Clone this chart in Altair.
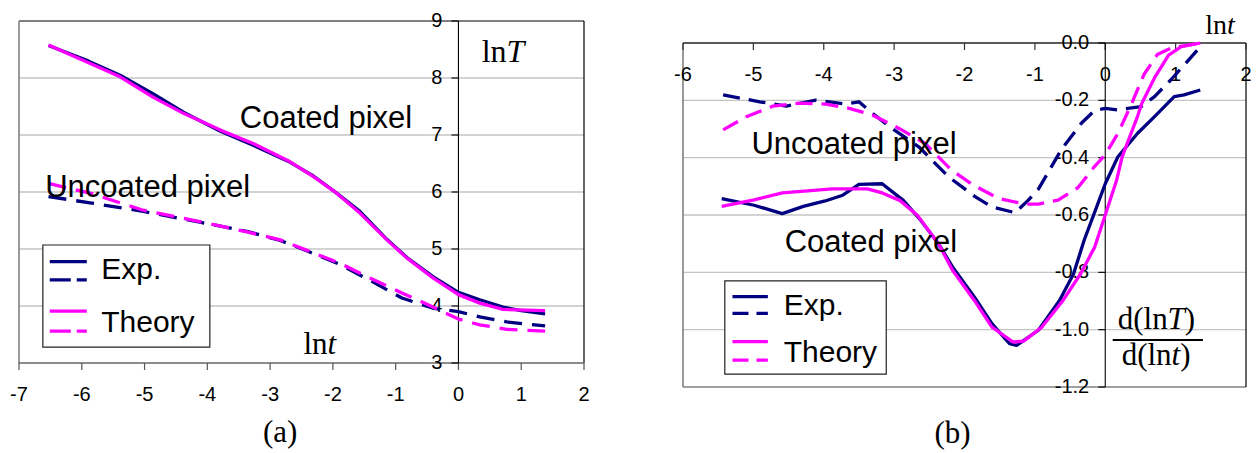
import altair as alt
import pandas as pd

NAVY = "#000080"
MAGENTA = "#FF00FF"
SANS = "Liberation Sans"
SERIF = "Liberation Serif"

# ---------------- panel (a): lnT vs lnt ----------------
a_x_coat_exp = [-6.53, -5.90, -5.39, -4.86, -4.38, -3.80, -3.27, -2.68, -2.31, -1.94,
                -1.57, -1.14, -0.82, -0.40, 0.00, 0.34, 0.71, 1.00, 1.38]
a_y_coat_exp = [8.57, 8.30, 8.05, 7.72, 7.40, 7.07, 6.82, 6.52, 6.28, 5.98,
                5.66, 5.17, 4.85, 4.51, 4.24, 4.11, 3.98, 3.92, 3.86]
a_x_coat_thy = [-6.53, -5.39, -4.86, -4.38, -3.80, -3.27, -2.68, -2.31, -1.94, -1.57,
                -1.14, -0.82, -0.40, 0.00, 0.34, 0.71, 1.38]
a_y_coat_thy = [8.58, 8.02, 7.66, 7.38, 7.09, 6.85, 6.53, 6.27, 5.98, 5.63,
                5.16, 4.84, 4.49, 4.20, 4.05, 3.94, 3.92]
a_x_unc = [-6.53, -5.87, -5.02, -4.12, -3.37, -2.84, -2.42, -1.89, -1.41, -0.90,
           -0.40, 0.00, 0.34, 0.77, 1.38]
a_y_unc_exp = [5.92, 5.81, 5.66, 5.47, 5.31, 5.15, 4.97, 4.73, 4.45, 4.14,
               3.96, 3.90, 3.81, 3.72, 3.65]
a_y_unc_thy = [6.15, 5.98, 5.68, 5.48, 5.30, 5.16, 4.98, 4.75, 4.49, 4.23,
               3.98, 3.77, 3.67, 3.59, 3.56]

# ---------------- panel (b): d(lnT)/d(lnt) vs lnt ----------------
b_x_coat_exp = [-5.45, -4.99, -4.59, -4.29, -3.98, -3.73, -3.50, -3.17, -2.87, -2.62,
                -2.37, -2.17, -1.86, -1.61, -1.36, -1.26, -0.95, -0.65, -0.45, -0.30,
                -0.15, 0.00, 0.18, 0.46, 0.70, 0.98, 1.12, 1.35]
b_y_coat_exp = [-0.543, -0.566, -0.595, -0.570, -0.551, -0.531, -0.493, -0.491, -0.549, -0.619,
                -0.700, -0.781, -0.886, -0.979, -1.049, -1.055, -1.002, -0.898, -0.805, -0.688,
                -0.590, -0.491, -0.397, -0.315, -0.257, -0.187, -0.181, -0.164]
b_x_coat_thy = [-5.45, -4.99, -4.59, -4.23, -3.88, -3.38, -3.17, -2.92, -2.67, -2.37,
                -2.17, -1.86, -1.61, -1.31, -1.16, -0.90, -0.60, -0.35, -0.15, 0.00,
                0.16, 0.24, 0.46, 0.52, 0.71, 0.90, 1.08, 1.35]
b_y_coat_thy = [-0.570, -0.547, -0.523, -0.516, -0.509, -0.509, -0.523, -0.549, -0.601, -0.700,
                -0.793, -0.898, -0.991, -1.043, -1.040, -0.991, -0.898, -0.805, -0.712, -0.600,
                -0.480, -0.397, -0.255, -0.210, -0.117, -0.042, -0.013, 0.000]
b_x_unc_exp = [-5.43, -4.91, -4.53, -4.11, -3.69, -3.50, -3.31, -3.03, -2.65, -2.23,
               -1.85, -1.61, -1.28, -1.10, -0.95, -0.62, -0.34, -0.15, 0.00, 0.17,
               0.51, 0.70, 0.93, 1.12, 1.35]
b_y_unc_exp = [-0.181, -0.205, -0.220, -0.199, -0.213, -0.205, -0.245, -0.298, -0.362, -0.466,
               -0.536, -0.572, -0.592, -0.550, -0.510, -0.370, -0.280, -0.235, -0.228, -0.233,
               -0.222, -0.187, -0.129, -0.077, -0.013]
b_x_unc_thy = [-5.43, -5.10, -4.72, -4.35, -3.97, -3.64, -3.31, -2.93, -2.56, -2.20,
               -1.88, -1.52, -1.14, -0.95, -0.67, -0.39, -0.15, 0.00, 0.18, 0.36,
               0.55, 0.74, 0.93, 1.35]
b_y_unc_thy = [-0.303, -0.257, -0.220, -0.210, -0.213, -0.228, -0.251, -0.298, -0.350, -0.440,
               -0.495, -0.542, -0.562, -0.562, -0.548, -0.505, -0.430, -0.390, -0.315, -0.220,
               -0.110, -0.040, -0.018, 0.000]

# ticks / grid / labels
a_xticks = [-7, -6, -5, -4, -3, -2, -1, 0, 1, 2]
a_yticks = [3, 4, 5, 6, 7, 8, 9]
a_grid = [4, 5, 6, 7, 8]
b_xticks = [-6, -5, -4, -3, -2, -1, 0, 1, 2]
b_yticks = [-1.2, -1.0, -0.8, -0.6, -0.4, -0.2, 0.0]
b_grid = [-1.0, -0.8, -0.6, -0.4, -0.2]
a_xlabels = [str(v) for v in a_xticks]
a_ylabels = [str(v) for v in a_yticks]
b_xlabels = [str(v) for v in b_xticks]
b_ylabels = ["%.1f" % v for v in b_yticks]
series_labels = ["Exp.", "Theory"]
curve_labels = ["Coated pixel", "Uncoated pixel"]

W, H = 1244, 445

XA = alt.Scale(domain=[-7, 2], range=[11, 576], nice=False, zero=False)
YA = alt.Scale(domain=[3, 9], range=[355, 13], nice=False, zero=False)
XB = alt.Scale(domain=[-6, 2], range=[675, 1238], nice=False, zero=False)
YB = alt.Scale(domain=[-1.2, 0], range=[379, 35], nice=False, zero=False)
TICK = 7  # tick length in pixels
TICKFONT = 20
LW = 3.3


def px_to_units(scale, px):
    d0, d1 = scale.domain
    r0, r1 = scale.range
    return px * abs(d1 - d0) / abs(r1 - r0)


def hrules(ys, x1, x2, sx, sy, color, width, dash=None):
    df = pd.DataFrame({"x": [x1] * len(ys), "x2": [x2] * len(ys), "y": ys})
    kw = dict(color=color, strokeWidth=width)
    if dash:
        kw["strokeDash"] = dash
    return alt.Chart(df).mark_rule(**kw).encode(
        x=alt.X("x:Q", scale=sx, axis=None), x2="x2:Q",
        y=alt.Y("y:Q", scale=sy, axis=None))


def vrules(xs, y1, y2, sx, sy, color, width):
    df = pd.DataFrame({"x": xs, "y": [y1] * len(xs), "y2": [y2] * len(xs)})
    return alt.Chart(df).mark_rule(color=color, strokeWidth=width).encode(
        x=alt.X("x:Q", scale=sx, axis=None),
        y=alt.Y("y:Q", scale=sy, axis=None), y2="y2:Q")


def box(x1, x2, y1, y2, sx, sy):
    df = pd.DataFrame({"x": [x1], "x2": [x2], "y": [y1], "y2": [y2]})
    return alt.Chart(df).mark_rect(fill="white", stroke="#222", strokeWidth=1.2).encode(
        x=alt.X("x:Q", scale=sx, axis=None), x2="x2:Q",
        y=alt.Y("y:Q", scale=sy, axis=None), y2="y2:Q")


def curve(xs, ys, color, sx, sy, dash=None):
    df = pd.DataFrame({"x": xs, "y": ys})
    kw = dict(color=color, strokeWidth=LW, strokeJoin="round")
    if dash:
        kw["strokeDash"] = dash
    return alt.Chart(df).mark_line(**kw).encode(
        x=alt.X("x:Q", scale=sx, axis=None),
        y=alt.Y("y:Q", scale=sy, axis=None))


def texts(xs, ys, labels, sx, sy, font, size, align="left", dx=0, dy=0,
          italic=False, baseline="alphabetic"):
    df = pd.DataFrame({"x": xs, "y": ys, "t": labels})
    kw = dict(font=font, fontSize=size, align=align, baseline=baseline, color="black")
    if dx:
        kw["dx"] = dx
    if dy:
        kw["dy"] = dy
    if italic:
        kw["fontStyle"] = "italic"
    return alt.Chart(df).mark_text(**kw).encode(
        x=alt.X("x:Q", scale=sx, axis=None),
        y=alt.Y("y:Q", scale=sy, axis=None), text="t:N")


def label(x, y, text, sx, sy, font, size, **kw):
    return texts([x], [y], [text], sx, sy, font, size, **kw)


# ---------------- build panel (a) ----------------
a_tx = px_to_units(XA, TICK)
a_ty = px_to_units(YA, TICK)
panel_a = alt.layer(
    hrules(a_grid, -7, 2, XA, YA, "#c4c4c4", 1.4),
    hrules([9], -7, 2, XA, YA, "black", 1.2),
    vrules([2], 3, 9, XA, YA, "black", 1.2),
    vrules([-7], 3, 9, XA, YA, "#808080", 1.6),
    # x axis (bottom, at lnT = 3)
    hrules([3], -7, 2, XA, YA, "#666", 1.5),
    vrules(a_xticks, 3, 3 - a_ty, XA, YA, "#555", 1.2),
    texts(a_xticks, [3] * len(a_xticks), a_xlabels, XA, YA, SANS, TICKFONT,
          align="center", dy=32, baseline="middle"),
    # y axis (at lnt = 0)
    vrules([0], 3, 9, XA, YA, "black", 1.1),
    hrules(a_yticks, -a_tx, 0, XA, YA, "black", 1.1),
    texts([0] * len(a_yticks), a_yticks, a_ylabels, XA, YA, SANS, TICKFONT,
          align="right", dx=-16, baseline="middle"),
    # legend
    box(-6.62, -3.96, 3.28, 5.07, XA, YA),
    hrules([4.78], -6.51, -5.92, XA, YA, NAVY, LW),
    hrules([4.46], -6.51, -5.92, XA, YA, NAVY, LW, dash=[21, 6]),
    hrules([3.91], -6.51, -5.92, XA, YA, MAGENTA, LW),
    hrules([3.56], -6.51, -5.92, XA, YA, MAGENTA, LW, dash=[21, 6]),
    label(-5.69, 4.63, series_labels[0], XA, YA, SANS, 30, baseline="middle"),
    label(-5.69, 3.71, series_labels[1], XA, YA, SANS, 30, baseline="middle"),
    # curves
    curve(a_x_unc, a_y_unc_exp, NAVY, XA, YA, dash=[18, 10]),
    curve(a_x_coat_exp, a_y_coat_exp, NAVY, XA, YA),
    curve(a_x_unc, a_y_unc_thy, MAGENTA, XA, YA, dash=[18, 10]),
    curve(a_x_coat_thy, a_y_coat_thy, MAGENTA, XA, YA),
    # annotations
    label(-2.11, 7.12, curve_labels[0], XA, YA, SANS, 31, align="center"),
    label(-4.95, 5.92, curve_labels[1], XA, YA, SANS, 31, align="center"),
    label(0.37, 8.275, "ln", XA, YA, SERIF, 32),
    label(0.37, 8.275, "T", XA, YA, SERIF, 32, dx=24.9, italic=True),
    label(-2.47, 3.16, "ln", XA, YA, SERIF, 31),
    label(-2.47, 3.16, "t", XA, YA, SERIF, 31, dx=24.1, italic=True),
    label(-2.84, 1.62, "(a)", XA, YA, SERIF, 31, align="center"),
)

# ---------------- build panel (b) ----------------
b_tx = px_to_units(XB, TICK)
b_ty = px_to_units(YB, TICK)
panel_b = alt.layer(
    hrules(b_grid, -6, 2, XB, YB, "#c4c4c4", 1.4),
    hrules([-1.2], -6, 2, XB, YB, "#808080", 1.4),
    vrules([2], -1.2, 0, XB, YB, "black", 1.2),
    vrules([-6], -1.2, 0, XB, YB, "#808080", 1.6),
    # x axis (top, at 0)
    hrules([0], -6, 2, XB, YB, "#222", 1.3),
    vrules(b_xticks, 0, -b_ty, XB, YB, "#333", 1.2),
    texts(b_xticks, [0] * len(b_xticks), b_xlabels, XB, YB, SANS, TICKFONT,
          align="center", dy=32, baseline="middle"),
    # y axis (at lnt = 0)
    vrules([0], -1.2, 0, XB, YB, "black", 1.1),
    hrules(b_yticks, -b_tx, 0, XB, YB, "black", 1.1),
    texts([0] * len(b_yticks), b_yticks, b_ylabels, XB, YB, SANS, TICKFONT,
          align="right", dx=-16, baseline="middle"),
    # legend
    box(-5.406, -3.112, -0.830, -1.155, XB, YB),
    hrules([-0.885], -5.297, -4.794, XB, YB, NAVY, LW),
    hrules([-0.943], -5.297, -4.794, XB, YB, NAVY, LW, dash=[16, 8]),
    hrules([-1.042], -5.297, -4.794, XB, YB, MAGENTA, LW),
    hrules([-1.106], -5.297, -4.794, XB, YB, MAGENTA, LW, dash=[16, 8]),
    label(-4.569, -0.917, series_labels[0], XB, YB, SANS, 30, baseline="middle"),
    label(-4.569, -1.081, series_labels[1], XB, YB, SANS, 30, baseline="middle"),
    # curves
    curve(b_x_unc_exp, b_y_unc_exp, NAVY, XB, YB, dash=[17, 9]),
    curve(b_x_coat_exp, b_y_coat_exp, NAVY, XB, YB),
    curve(b_x_unc_thy, b_y_unc_thy, MAGENTA, XB, YB, dash=[17, 9]),
    curve(b_x_coat_thy, b_y_coat_thy, MAGENTA, XB, YB),
    # annotations
    label(-3.57, -0.386, curve_labels[1], XB, YB, SANS, 31, align="center"),
    label(-3.33, -0.728, curve_labels[0], XB, YB, SANS, 31, align="center"),
    label(1.42, 0.031, "ln", XB, YB, SERIF, 28),
    label(1.42, 0.031, "t", XB, YB, SERIF, 28, dx=21.8, italic=True),
    label(-2.17, -1.396, "(b)", XB, YB, SERIF, 31, align="center"),
    label(0.177, -0.9986, "d(ln", XB, YB, SERIF, 31),
    label(0.177, -0.9986, "T", XB, YB, SERIF, 31, dx=49.9, italic=True),
    label(0.177, -0.9986, ")", XB, YB, SERIF, 31, dx=67.1),
    hrules([-1.036], 0.106, 1.388, XB, YB, "black", 2),
    label(0.233, -1.123, "d(ln", XB, YB, SERIF, 31),
    label(0.233, -1.123, "t", XB, YB, SERIF, 31, dx=49.9, italic=True),
    label(0.233, -1.123, ")", XB, YB, SERIF, 31, dx=58.5),
)

chart = (
    alt.layer(panel_a, panel_b)
    .resolve_scale(x="independent", y="independent")
    .properties(width=W, height=H, padding=0, background="white",
                autosize=alt.AutoSizeParams(type="none"))
    .configure_view(strokeWidth=0)
)

chart.save("out.html", embed_options={"renderer": "svg", "actions": False})
